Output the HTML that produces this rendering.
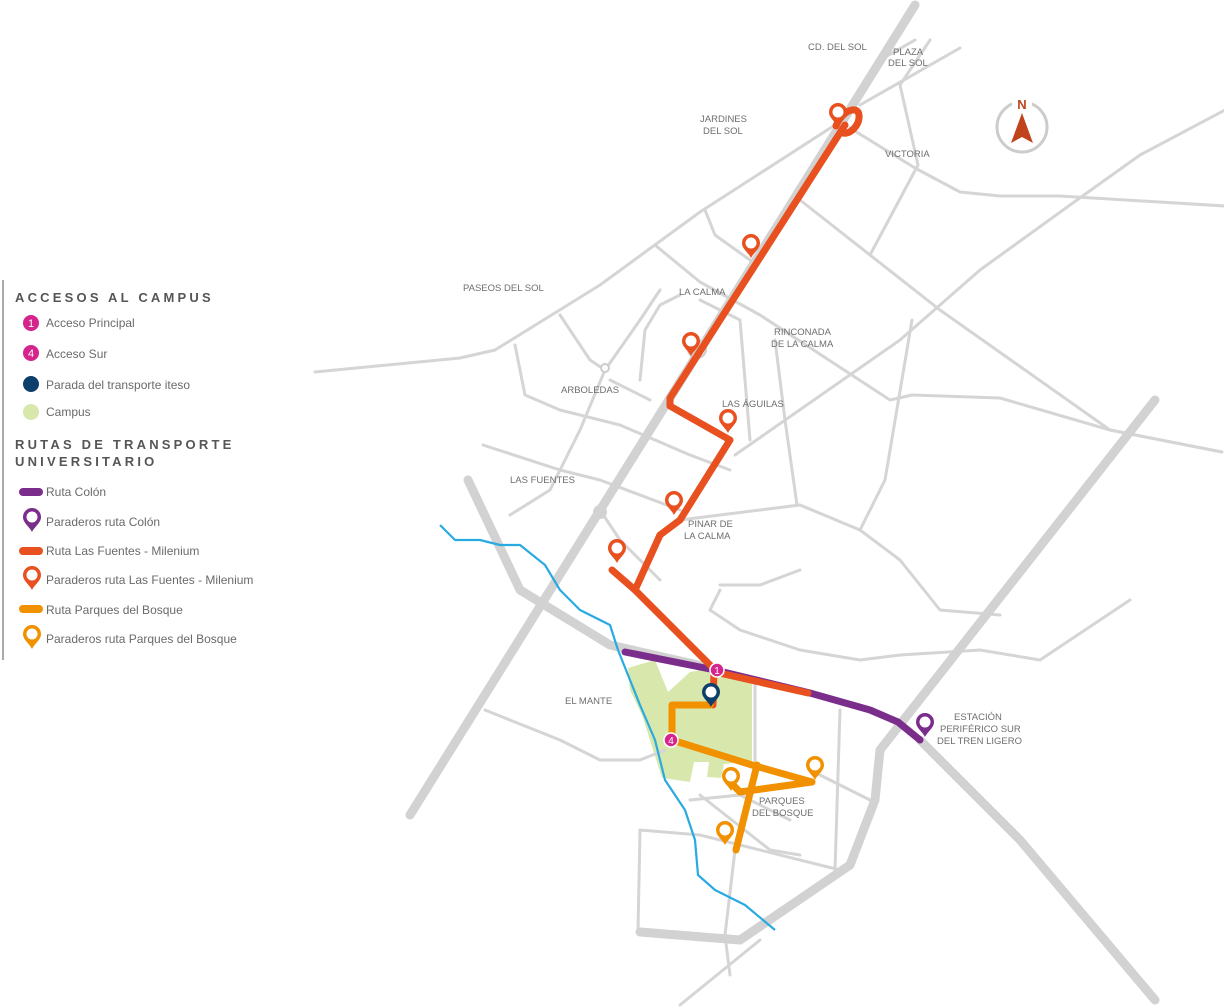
<!DOCTYPE html>
<html><head><meta charset="utf-8"><style>
html,body{margin:0;padding:0;background:#fff;width:1224px;height:1008px;overflow:hidden}
svg{display:block}
.r{fill:none;stroke:#d5d5d5;stroke-width:3;stroke-linejoin:round;stroke-linecap:round}
.h{fill:none;stroke:#d2d2d2;stroke-width:9;stroke-linejoin:round;stroke-linecap:round}
.lab{font-family:"Liberation Sans",sans-serif;font-size:9.5px;fill:#6e6e6e}
.leg{font-family:"Liberation Sans",sans-serif;font-size:12px;fill:#6a6a6a}
.hd{font-family:"Liberation Sans",sans-serif;font-size:13px;font-weight:bold;fill:#555;letter-spacing:3.2px}
</style></head><body>
<svg width="1224" height="1008" viewBox="0 0 1224 1008">
<defs>
<g id="pin"><path d="M0,0 C-3,-6 -9,-9 -9,-15 A9,9 0 1 1 9,-15 C9,-9 3,-6 0,0Z"/><circle cx="0" cy="-15" r="5.5" fill="#fff"/></g>
</defs>
<polygon fill="#d8e8ad" points="628,668 655,660 668,692 690,672 712,668 752,680 752,762 724,764 721,778 707,777 709,762 694,762 690,782 662,778 642,715 630,690"/>
<g class="r">
<polyline points="315,372 460,358 495,350 600,285 700,212 835,125"/>
<polyline points="860,105 960,48"/>
<polyline points="850,128 915,168 960,192 1000,196 1060,196 1225,206"/>
<polyline points="800,200 940,310 1110,430 1222,452"/>
<polyline points="870,255 918,165 900,85 930,40"/>
<polyline points="880,60 915,40"/>
<polyline points="705,210 715,235 750,260"/>
<polyline points="735,455 900,340 980,270 1070,205 1140,155 1225,110"/>
<polyline points="655,245 700,282 760,315 890,400 912,395 1000,398 1110,430 1222,452"/>
<polyline points="775,340 785,420 797,505"/>
<polyline points="912,320 885,480 860,530"/>
<polyline points="640,380 645,330 660,305 680,295"/>
<polyline points="560,315 590,360 605,370 640,320 660,290"/>
<polyline points="483,445 560,470 600,480 680,510"/>
<polyline points="510,515 550,490 580,430 605,370"/>
<polyline points="515,345 525,395 560,410 620,425 690,455 730,470"/>
<polyline points="680,520 760,510 800,505 860,530 900,560 940,610 1000,615"/>
<polyline points="700,300 740,320 745,380 750,440"/>
<polyline points="720,585 760,585 800,570"/>
<polyline points="720,590 710,610 740,630 800,650 860,660 900,655 980,650 1040,660 1130,600"/>
<polyline points="485,710 560,740 600,760 640,760 665,750"/>
<polyline points="640,830 700,835 840,870"/>
<polyline points="640,830 638,930"/>
<polyline points="735,850 725,935 730,975"/>
<polyline points="680,1005 760,940"/>
<polyline points="840,710 835,870"/>
<polyline points="755,680 755,780"/>
<polyline points="690,800 740,795 790,820"/>
<polyline points="810,770 870,800"/>
<polyline points="700,795 770,850 800,855"/>
<polyline points="600,510 620,540 640,560 660,580"/>
<polyline points="610,380 650,400"/>
</g>
<g class="h">
<polyline points="915,5 410,815"/>
<polyline points="1155,400 880,750 875,800 850,865 740,940 640,932"/>
<polyline points="468,480 520,590 610,645 720,670"/>
<polyline points="920,740 1020,840 1155,1000"/>
</g>
<circle cx="605" cy="368" r="4" fill="#fff" stroke="#ccc" stroke-width="2"/>
<circle cx="600" cy="512" r="7" fill="#d2d2d2"/>
<circle cx="697" cy="349" r="9" fill="none" stroke="#ccc" stroke-width="2"/>
<polyline fill="none" stroke="#29aae1" stroke-width="2.2" stroke-linejoin="round" points="440,525 455,540 480,540 500,545 520,545 545,565 560,590 580,610 610,625 618,650 630,680 640,705 655,740 665,780 685,810 695,840 698,875 715,890 745,905 775,930"/>
<g fill="none" stroke-linecap="round" stroke-linejoin="round" stroke-width="7">
<polyline stroke="#7b2d8b" points="625,652 715,670 810,693 870,710 898,722 920,740"/>
<polyline stroke="#e8501f" points="845,125 670,398 670,406 730,440 680,520 660,535 635,590"/>
<polyline stroke="#e8501f" points="612,570 635,590 715,670"/>
<polyline stroke="#e8501f" points="715,672 808,693"/>
<polyline stroke="#e8501f" points="714,672 713,705"/>
<path stroke="#e8501f" d="M836,126 C842,110 858,105 859,115 C860,125 850,135 843,133"/>
<polyline stroke="#f29100" points="710,705 672,705 672,740 752,765 812,782 740,792 728,780"/>
<polyline stroke="#f29100" points="757,765 736,850"/>
</g>
<g fill="#e8501f">
<use href="#pin" x="838" y="127"/><use href="#pin" x="751" y="258"/><use href="#pin" x="691" y="356"/>
<use href="#pin" x="728" y="433"/><use href="#pin" x="674" y="515"/><use href="#pin" x="617" y="563"/>
</g>
<g fill="#f29100"><use href="#pin" x="731" y="791"/><use href="#pin" x="815" y="780"/><use href="#pin" x="725" y="845"/></g>
<use href="#pin" x="925" y="737" fill="#7b2d8b"/>
<use href="#pin" x="711" y="707" fill="#0d3f6b"/>
<circle cx="717" cy="670" r="7" fill="#d6248d" stroke="#fff" stroke-width="1.5"/>
<text x="717" y="674" font-family="Liberation Sans" font-size="10" fill="#fff" text-anchor="middle">1</text>
<circle cx="671" cy="740" r="7" fill="#d6248d" stroke="#fff" stroke-width="1.5"/>
<text x="671" y="744" font-family="Liberation Sans" font-size="10" fill="#fff" text-anchor="middle">4</text>
<circle cx="1022" cy="127" r="25" fill="none" stroke="#ccc" stroke-width="3"/>
<rect x="1012" y="96" width="20" height="18" fill="#fff"/>
<text x="1022" y="109" font-family="Liberation Sans" font-weight="bold" font-size="13" fill="#c0431b" text-anchor="middle">N</text>
<polygon points="1022,113 1011,143 1022,137 1033,143" fill="#c0431b"/>
<g class="lab">
<text x="808" y="50">CD. DEL SOL</text>
<text x="893" y="55">PLAZA</text><text x="888" y="66">DEL SOL</text>
<text x="700" y="122">JARDINES</text><text x="703" y="134">DEL SOL</text>
<text x="885" y="157">VICTORIA</text>
<text x="463" y="291">PASEOS DEL SOL</text>
<text x="679" y="295">LA CALMA</text>
<text x="774" y="335">RINCONADA</text><text x="771" y="347">DE LA CALMA</text>
<text x="561" y="393">ARBOLEDAS</text>
<text x="722" y="407">LAS ÁGUILAS</text>
<text x="510" y="483">LAS FUENTES</text>
<text x="688" y="527">PINAR DE</text><text x="684" y="539">LA CALMA</text>
<text x="565" y="704">EL MANTE</text>
<text x="759" y="804">PARQUES</text><text x="752" y="816">DEL BOSQUE</text>
<text x="954" y="720">ESTACIÓN</text><text x="940" y="732">PERIFÉRICO SUR</text><text x="937" y="744">DEL TREN LIGERO</text>
</g>
<rect x="2" y="280" width="2" height="380" fill="#aaa"/>
<text x="15" y="302" class="hd">ACCESOS AL CAMPUS</text>
<circle cx="31" cy="323" r="8" fill="#d6248d"/><text x="31" y="327" font-family="Liberation Sans" font-size="11" fill="#fff" text-anchor="middle">1</text>
<text x="46" y="327" class="leg">Acceso Principal</text>
<circle cx="31" cy="353" r="8" fill="#d6248d"/><text x="31" y="357" font-family="Liberation Sans" font-size="11" fill="#fff" text-anchor="middle">4</text>
<text x="46" y="358" class="leg">Acceso Sur</text>
<circle cx="31" cy="384" r="8" fill="#0d3f6b"/><text x="46" y="389" class="leg">Parada del transporte iteso</text>
<circle cx="31" cy="412" r="8" fill="#d8e8ad"/><text x="46" y="416" class="leg">Campus</text>
<text x="15" y="449" class="hd">RUTAS DE TRANSPORTE</text>
<text x="15" y="466" class="hd">UNIVERSITARIO</text>
<rect x="19" y="488" width="24" height="8" rx="4" fill="#7b2d8b"/><text x="46" y="496" class="leg">Ruta Colón</text>
<use href="#pin" x="32" y="532" fill="#7b2d8b"/><text x="46" y="526" class="leg">Paraderos ruta Colón</text>
<rect x="19" y="547" width="24" height="8" rx="4" fill="#e8501f"/><text x="46" y="555" class="leg">Ruta Las Fuentes - Milenium</text>
<use href="#pin" x="32" y="590" fill="#e8501f"/><text x="46" y="584" class="leg">Paraderos ruta Las Fuentes - Milenium</text>
<rect x="19" y="605" width="24" height="8" rx="4" fill="#f29100"/><text x="46" y="614" class="leg">Ruta Parques del Bosque</text>
<use href="#pin" x="32" y="649" fill="#f29100"/><text x="46" y="643" class="leg">Paraderos ruta Parques del Bosque</text>
</svg>
</body></html>
